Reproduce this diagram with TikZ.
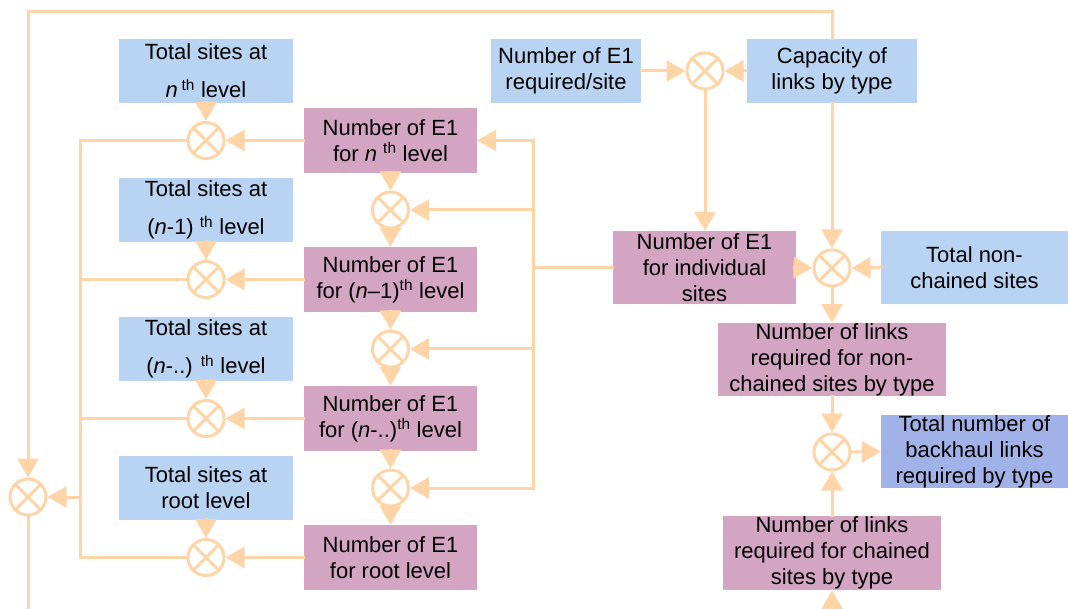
\documentclass[tikz,border=0pt]{standalone}
\usepackage{fontspec}
\setmainfont{Liberation Sans}
\usetikzlibrary{arrows.meta}
\definecolor{lineC}{HTML}{FFD5A8}
\definecolor{boxB}{HTML}{B9D3F2}
\definecolor{boxP}{HTML}{D3A5C3}
\definecolor{boxD}{HTML}{A0B2E8}
\begin{document}
\begin{tikzpicture}[x=1pt,y=-1pt,
  box/.style={inner sep=0pt, align=center, font=\fontsize{22}{26}\selectfont, text=black},
  bbox/.style={box, fill=boxB},
  pbox/.style={box, fill=boxP},
  dbox/.style={box, fill=boxD},
  mult/.style={circle, draw=lineC, line width=3pt, minimum size=36pt, inner sep=0pt,
    path picture={
      \draw[lineC, line width=3pt] ([shift={(45:20pt)}]path picture bounding box.center) -- ([shift={(225:20pt)}]path picture bounding box.center);
      \draw[lineC, line width=3pt] ([shift={(135:20pt)}]path picture bounding box.center) -- ([shift={(-45:20pt)}]path picture bounding box.center);
    }},
  conn/.style={draw=lineC, line width=3pt, line cap=rect},
  arr/.style={conn, -{Triangle[length=19pt,width=21pt]}},
  lvl/.style={minimum width=174pt, minimum height=64pt},
  lvp/.style={minimum width=173pt, minimum height=65pt},
]
\useasboundingbox (0,0) rectangle (1068,609);

% left column: totals
\node[bbox, lvl] (b1) at (206,71) {Total sites at\\[12pt]\textit{n}\,\textsuperscript{th} level};
\node[bbox, lvl] (b2) at (206,210) {Total sites at\\[12pt](\textit{n}-1) \textsuperscript{th} level};
\node[bbox, lvl] (b3) at (206,349) {Total sites at\\[12pt](\textit{n}-..) \textsuperscript{th} level};
\node[bbox, lvl] (b4) at (206,488) {Total sites at\\root level};

% E1 per level
\node[pbox, lvp] (p1) at (390.5,140.5) {Number of E1\\for \textit{n} \textsuperscript{th} level};
\node[pbox, lvp] (p2) at (390.5,279.5) {Number of E1\\for (\textit{n}–1)\textsuperscript{th} level};
\node[pbox, lvp] (p3) at (390.5,418.5) {Number of E1\\for (\textit{n}-..)\textsuperscript{th} level};
\node[pbox, lvp] (p4) at (390.5,557.5) {Number of E1\\for root level};

% multipliers
\node[mult] (lc1) at (206,140.5) {};
\node[mult] (lc2) at (206,279.5) {};
\node[mult] (lc3) at (206,418.5) {};
\node[mult] (lc4) at (206,557.5) {};
\node[mult] (mc1) at (390.5,210) {};
\node[mult] (mc2) at (390.5,349) {};
\node[mult] (mc3) at (390.5,488) {};
\node[mult] (bigc) at (28,497) {};

% right part
\node[bbox, minimum width=150pt, minimum height=64pt] (req) at (566,71) {Number of E1\\required/site};
\node[mult] (tc) at (705,71) {};
\node[bbox, minimum width=170pt, minimum height=64pt] (cap) at (832,71) {Capacity of\\links by type};
\node[pbox, minimum width=183pt, minimum height=73pt] (indiv) at (704.5,267.5) {Number of E1\\for individual\\sites};
\node[mult] (rc) at (832,268) {};
\node[bbox, minimum width=187pt, minimum height=73pt] (nonch) at (974.5,267.5) {Total non-\\chained sites};
\node[pbox, minimum width=228pt, minimum height=73pt] (lnc) at (832,359.5) {Number of links\\required for non-\\chained sites by type};
\node[mult] (sc) at (832,452) {};
\node[dbox, minimum width=187pt, minimum height=73pt] (tot) at (974.5,451.5) {Total number of\\backhaul links\\required by type};
\node[pbox, minimum width=218pt, minimum height=74pt] (lch) at (832,553) {Number of links\\required for chained\\sites by type};

% coordinates
\coordinate (tl) at (28,12);
\coordinate (bl) at (28,609);
\coordinate (br) at (832,609);
\coordinate (lb1) at (80,140.5);
\coordinate (lb4) at (80,557.5);
\coordinate (rb1) at (533,140.5);
\coordinate (rb4) at (533,488);

% left column connectors
\foreach \i in {1,2,3,4} {
  \draw[arr] (b\i.south) -- (lc\i.north);
  \draw[arr] (p\i.west) -- (lc\i.east);
}
\draw[arr] (p1.south) -- (mc1.north);
\draw[arr] (mc1.south) -- (p2.north);
\draw[arr] (p2.south) -- (mc2.north);
\draw[arr] (mc2.south) -- (p3.north);
\draw[arr] (p3.south) -- (mc3.north);
\draw[arr] (mc3.south) -- (p4.north);

% left bus
\draw[conn] (lc1.west) -- (lb1) -- (lb4) -- (lc4.west);
\draw[conn] (lc2.west) -- (lc2.west -| lb1);
\draw[conn] (lc3.west) -- (lc3.west -| lb1);
\draw[arr] (bigc -| lb1) -- (bigc.east);

% right bus
\draw[arr] (rb4) -- (rb1) -- (p1.east);
\draw[arr] (rb4) -- (mc3.east);
\draw[arr] (mc1 -| rb1) -- (mc1.east);
\draw[arr] (mc2 -| rb1) -- (mc2.east);
\draw[conn] (indiv.west) -- (indiv.west -| rb1);

% outer loop
\draw[arr] (cap.north) |- (tl) -- (bigc.north);
\draw[conn] (bigc.south) -- (bl);
\draw[arr] (br) -- (lch.south);

% right part connectors
\draw[arr] (req.east) -- (tc.west);
\draw[arr] (cap.west) -- (tc.east);
\draw[arr] (tc.south) -- (tc.south |- indiv.north);
\draw[arr] (cap.south) -- (rc.north);
\draw[arr] (indiv.east) -- (rc.west);
\draw[arr] (nonch.west) -- (rc.east);
\draw[arr] (rc.south) -- (lnc.north);
\draw[arr] (lnc.south) -- (sc.north);
\draw[arr] (lch.north) -- (sc.south);
\draw[arr] (sc.east) -- (tot.west);
\end{tikzpicture}
\end{document}
